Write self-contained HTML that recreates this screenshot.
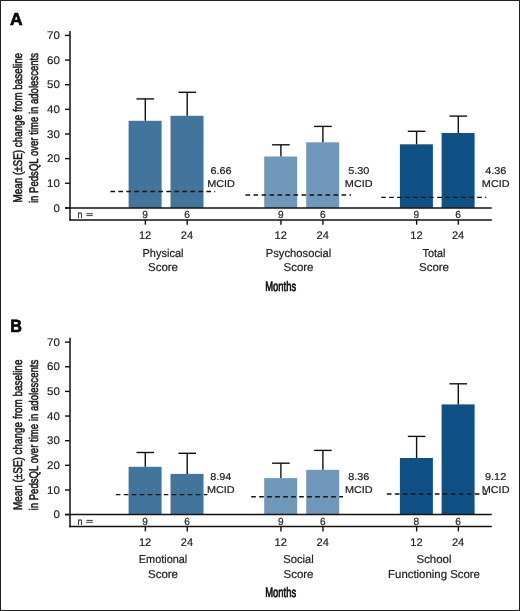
<!DOCTYPE html><html><head><meta charset="utf-8"><style>html,body{margin:0;padding:0;background:#fff;}svg{display:block;will-change:transform;}text{font-family:"Liberation Sans", sans-serif;fill:#222;text-rendering:geometricPrecision;}.t{stroke:#222;stroke-width:0.2px;}.yl{fill:#1a1a1a;stroke:#1a1a1a;stroke-width:0.55px;}.pl{fill:#0a0a0a;stroke:#0a0a0a;stroke-width:0.7px;}.t0{stroke:#222;stroke-width:0.15px;}.mo{fill:#0d0d0d;stroke:#0d0d0d;stroke-width:0.7px;}.l13{stroke:#111;stroke-width:1.4px;}.l14{stroke:#111;stroke-width:1.4px;}.l15{stroke:#111;stroke-width:1.5px;}</style></head><body>
<svg width="520" height="611" viewBox="0 0 520 611">
<rect x="0" y="0" width="520" height="611" fill="#fff"/>
<text x="9.9" y="24.7" font-size="17.4" font-weight="bold" class="pl">A</text>
<text transform="translate(22.2,202.50) rotate(-90)" font-size="12.5" class="yl" textLength="149.6" lengthAdjust="spacingAndGlyphs">Mean (±SE) change from baseline</text>
<text transform="translate(38.4,203.00) rotate(-90)" font-size="12.5" class="yl" textLength="150.0" lengthAdjust="spacingAndGlyphs">in PedsQL over time in adolescents</text>
<rect x="128.60" y="120.80" width="33" height="87.10" fill="#42759b"/>
<rect x="170.50" y="115.80" width="33" height="92.10" fill="#42759b"/>
<rect x="264.20" y="156.50" width="33" height="51.40" fill="#7098ba"/>
<rect x="306.20" y="142.30" width="33" height="65.60" fill="#7098ba"/>
<rect x="399.90" y="144.30" width="33" height="63.60" fill="#105185"/>
<rect x="441.60" y="133.00" width="33" height="74.90" fill="#105185"/>
<line x1="145.30" y1="120.80" x2="145.30" y2="98.90" class="l13"/>
<line x1="136.50" y1="98.90" x2="154.10" y2="98.90" class="l13"/>
<line x1="187.20" y1="115.80" x2="187.20" y2="92.30" class="l13"/>
<line x1="178.40" y1="92.30" x2="196.00" y2="92.30" class="l13"/>
<line x1="280.90" y1="156.50" x2="280.90" y2="144.80" class="l13"/>
<line x1="272.10" y1="144.80" x2="289.70" y2="144.80" class="l13"/>
<line x1="322.90" y1="142.30" x2="322.90" y2="126.40" class="l13"/>
<line x1="314.10" y1="126.40" x2="331.70" y2="126.40" class="l13"/>
<line x1="416.60" y1="144.30" x2="416.60" y2="131.30" class="l13"/>
<line x1="407.80" y1="131.30" x2="425.40" y2="131.30" class="l13"/>
<line x1="458.30" y1="133.00" x2="458.30" y2="116.10" class="l13"/>
<line x1="449.50" y1="116.10" x2="467.10" y2="116.10" class="l13"/>
<line x1="110.40" y1="191.50" x2="215.30" y2="191.50" class="l13" stroke-dasharray="4.6 3.4"/>
<text transform="translate(221.00,173.60) scale(1.100,1.000)" font-size="9.9" text-anchor="middle" class="t">6.66</text>
<text transform="translate(221.00,186.60) scale(1.100,1.000)" font-size="9.9" text-anchor="middle" class="t">MCID</text>
<line x1="245.50" y1="195.00" x2="351.00" y2="195.00" class="l13" stroke-dasharray="4.6 3.4"/>
<text transform="translate(358.70,173.60) scale(1.100,1.000)" font-size="9.9" text-anchor="middle" class="t">5.30</text>
<text transform="translate(358.70,186.60) scale(1.100,1.000)" font-size="9.9" text-anchor="middle" class="t">MCID</text>
<line x1="381.20" y1="197.40" x2="486.50" y2="197.40" class="l13" stroke-dasharray="4.6 3.4"/>
<text transform="translate(495.70,173.60) scale(1.100,1.000)" font-size="9.9" text-anchor="middle" class="t">4.36</text>
<text transform="translate(495.70,186.60) scale(1.100,1.000)" font-size="9.9" text-anchor="middle" class="t">MCID</text>
<line x1="70" y1="31.00" x2="70" y2="220.50" class="l15"/>
<line x1="65" y1="207.90" x2="491.8" y2="207.90" class="l15"/>
<line x1="69.3" y1="219.90" x2="491.8" y2="219.90" class="l15"/>
<line x1="65" y1="207.90" x2="70" y2="207.90" class="l14"/>
<text transform="translate(59.85,211.50) scale(1.050,1.000)" font-size="11.0" text-anchor="end" class="t0">0</text>
<line x1="65" y1="183.26" x2="70" y2="183.26" class="l14"/>
<text transform="translate(59.85,186.86) scale(1.050,1.000)" font-size="11.0" text-anchor="end" class="t0">10</text>
<line x1="65" y1="158.62" x2="70" y2="158.62" class="l14"/>
<text transform="translate(59.85,162.22) scale(1.050,1.000)" font-size="11.0" text-anchor="end" class="t0">20</text>
<line x1="65" y1="133.98" x2="70" y2="133.98" class="l14"/>
<text transform="translate(59.85,137.58) scale(1.050,1.000)" font-size="11.0" text-anchor="end" class="t0">30</text>
<line x1="65" y1="109.34" x2="70" y2="109.34" class="l14"/>
<text transform="translate(59.85,112.94) scale(1.050,1.000)" font-size="11.0" text-anchor="end" class="t0">40</text>
<line x1="65" y1="84.70" x2="70" y2="84.70" class="l14"/>
<text transform="translate(59.85,88.30) scale(1.050,1.000)" font-size="11.0" text-anchor="end" class="t0">50</text>
<line x1="65" y1="60.06" x2="70" y2="60.06" class="l14"/>
<text transform="translate(59.85,63.66) scale(1.050,1.000)" font-size="11.0" text-anchor="end" class="t0">60</text>
<line x1="65" y1="35.42" x2="70" y2="35.42" class="l14"/>
<text transform="translate(59.85,39.02) scale(1.050,1.000)" font-size="11.0" text-anchor="end" class="t0">70</text>
<text transform="translate(77.50,217.80) scale(0.880,1.000)" font-size="10.3" class="t">n</text>
<line x1="86.4" y1="213.70" x2="92.8" y2="213.70" stroke="#222" stroke-width="0.9"/>
<line x1="86.4" y1="215.60" x2="92.8" y2="215.60" stroke="#222" stroke-width="0.9"/>
<line x1="145.35" y1="219.90" x2="145.35" y2="224.70" class="l13"/>
<text transform="translate(145.10,217.80) scale(0.980,1.000)" font-size="10.3" text-anchor="middle" class="t">9</text>
<text transform="translate(145.10,239.20)" font-size="11.1" text-anchor="middle" class="t">12</text>
<line x1="187.25" y1="219.90" x2="187.25" y2="224.70" class="l13"/>
<text transform="translate(187.00,217.80) scale(0.980,1.000)" font-size="10.3" text-anchor="middle" class="t">6</text>
<text transform="translate(187.00,239.20)" font-size="11.1" text-anchor="middle" class="t">24</text>
<line x1="280.95" y1="219.90" x2="280.95" y2="224.70" class="l13"/>
<text transform="translate(280.70,217.80) scale(0.980,1.000)" font-size="10.3" text-anchor="middle" class="t">9</text>
<text transform="translate(280.70,239.20)" font-size="11.1" text-anchor="middle" class="t">12</text>
<line x1="322.95" y1="219.90" x2="322.95" y2="224.70" class="l13"/>
<text transform="translate(322.70,217.80) scale(0.980,1.000)" font-size="10.3" text-anchor="middle" class="t">6</text>
<text transform="translate(322.70,239.20)" font-size="11.1" text-anchor="middle" class="t">24</text>
<line x1="416.65" y1="219.90" x2="416.65" y2="224.70" class="l13"/>
<text transform="translate(416.40,217.80) scale(0.980,1.000)" font-size="10.3" text-anchor="middle" class="t">9</text>
<text transform="translate(416.40,239.20)" font-size="11.1" text-anchor="middle" class="t">12</text>
<line x1="458.35" y1="219.90" x2="458.35" y2="224.70" class="l13"/>
<text transform="translate(458.10,217.80) scale(0.980,1.000)" font-size="10.3" text-anchor="middle" class="t">6</text>
<text transform="translate(458.10,239.20)" font-size="11.1" text-anchor="middle" class="t">24</text>
<text transform="translate(163.00,256.80) scale(1.000,1.045)" font-size="11" text-anchor="middle" class="t">Physical</text>
<text transform="translate(163.00,270.90) scale(1.045,1.045)" font-size="11" text-anchor="middle" class="t">Score</text>
<text transform="translate(298.50,256.80) scale(1.020,1.045)" font-size="11" text-anchor="middle" class="t">Psychosocial</text>
<text transform="translate(298.50,270.90) scale(1.045,1.045)" font-size="11" text-anchor="middle" class="t">Score</text>
<text transform="translate(434.00,256.80) scale(0.990,1.045)" font-size="11" text-anchor="middle" class="t">Total</text>
<text transform="translate(434.00,270.90) scale(1.045,1.045)" font-size="11" text-anchor="middle" class="t">Score</text>
<text x="265.3" y="290.70" font-size="13.6" class="mo" textLength="30.8" lengthAdjust="spacingAndGlyphs">Months</text>
<text transform="translate(10.3,331.70) scale(0.93,1.02)" font-size="17.4" font-weight="bold" class="pl">B</text>
<text transform="translate(22.2,510.00) rotate(-90)" font-size="12.5" class="yl" textLength="150.4" lengthAdjust="spacingAndGlyphs">Mean (±SE) change from baseline</text>
<text transform="translate(38.4,510.50) rotate(-90)" font-size="12.5" class="yl" textLength="150.8" lengthAdjust="spacingAndGlyphs">in PedsQL over time in adolescents</text>
<rect x="128.60" y="466.80" width="33" height="47.80" fill="#42759b"/>
<rect x="170.50" y="473.90" width="33" height="40.70" fill="#42759b"/>
<rect x="264.20" y="478.10" width="33" height="36.50" fill="#7098ba"/>
<rect x="306.20" y="469.80" width="33" height="44.80" fill="#7098ba"/>
<rect x="399.90" y="458.00" width="33" height="56.60" fill="#105185"/>
<rect x="441.60" y="404.40" width="33" height="110.20" fill="#105185"/>
<line x1="145.30" y1="466.80" x2="145.30" y2="452.50" class="l13"/>
<line x1="136.50" y1="452.50" x2="154.10" y2="452.50" class="l13"/>
<line x1="187.20" y1="473.90" x2="187.20" y2="453.30" class="l13"/>
<line x1="178.40" y1="453.30" x2="196.00" y2="453.30" class="l13"/>
<line x1="280.90" y1="478.10" x2="280.90" y2="463.20" class="l13"/>
<line x1="272.10" y1="463.20" x2="289.70" y2="463.20" class="l13"/>
<line x1="322.90" y1="469.80" x2="322.90" y2="450.40" class="l13"/>
<line x1="314.10" y1="450.40" x2="331.70" y2="450.40" class="l13"/>
<line x1="416.60" y1="458.00" x2="416.60" y2="436.40" class="l13"/>
<line x1="407.80" y1="436.40" x2="425.40" y2="436.40" class="l13"/>
<line x1="458.30" y1="404.40" x2="458.30" y2="383.80" class="l13"/>
<line x1="449.50" y1="383.80" x2="467.10" y2="383.80" class="l13"/>
<line x1="115.80" y1="494.60" x2="207.50" y2="494.60" class="l13" stroke-dasharray="4.6 3.4"/>
<text transform="translate(220.80,479.70) scale(1.100,1.000)" font-size="9.9" text-anchor="middle" class="t">8.94</text>
<text transform="translate(220.80,492.70) scale(1.100,1.000)" font-size="9.9" text-anchor="middle" class="t">MCID</text>
<line x1="251.20" y1="496.70" x2="343.00" y2="496.70" class="l13" stroke-dasharray="4.6 3.4"/>
<text transform="translate(358.80,479.70) scale(1.100,1.000)" font-size="9.9" text-anchor="middle" class="t">8.36</text>
<text transform="translate(358.80,492.70) scale(1.100,1.000)" font-size="9.9" text-anchor="middle" class="t">MCID</text>
<line x1="386.90" y1="494.00" x2="487.00" y2="494.00" class="l13" stroke-dasharray="4.6 3.4"/>
<text transform="translate(495.60,479.70) scale(1.100,1.000)" font-size="9.9" text-anchor="middle" class="t">9.12</text>
<text transform="translate(495.60,492.70) scale(1.100,1.000)" font-size="9.9" text-anchor="middle" class="t">MCID</text>
<line x1="70" y1="337.70" x2="70" y2="527.20" class="l15"/>
<line x1="65" y1="514.60" x2="491.8" y2="514.60" class="l15"/>
<line x1="69.3" y1="526.60" x2="491.8" y2="526.60" class="l15"/>
<line x1="65" y1="514.60" x2="70" y2="514.60" class="l14"/>
<text transform="translate(59.85,518.20) scale(1.050,1.000)" font-size="11.0" text-anchor="end" class="t0">0</text>
<line x1="65" y1="489.96" x2="70" y2="489.96" class="l14"/>
<text transform="translate(59.85,493.56) scale(1.050,1.000)" font-size="11.0" text-anchor="end" class="t0">10</text>
<line x1="65" y1="465.32" x2="70" y2="465.32" class="l14"/>
<text transform="translate(59.85,468.92) scale(1.050,1.000)" font-size="11.0" text-anchor="end" class="t0">20</text>
<line x1="65" y1="440.68" x2="70" y2="440.68" class="l14"/>
<text transform="translate(59.85,444.28) scale(1.050,1.000)" font-size="11.0" text-anchor="end" class="t0">30</text>
<line x1="65" y1="416.04" x2="70" y2="416.04" class="l14"/>
<text transform="translate(59.85,419.64) scale(1.050,1.000)" font-size="11.0" text-anchor="end" class="t0">40</text>
<line x1="65" y1="391.40" x2="70" y2="391.40" class="l14"/>
<text transform="translate(59.85,395.00) scale(1.050,1.000)" font-size="11.0" text-anchor="end" class="t0">50</text>
<line x1="65" y1="366.76" x2="70" y2="366.76" class="l14"/>
<text transform="translate(59.85,370.36) scale(1.050,1.000)" font-size="11.0" text-anchor="end" class="t0">60</text>
<line x1="65" y1="342.12" x2="70" y2="342.12" class="l14"/>
<text transform="translate(59.85,345.72) scale(1.050,1.000)" font-size="11.0" text-anchor="end" class="t0">70</text>
<text transform="translate(77.50,524.50) scale(0.880,1.000)" font-size="10.3" class="t">n</text>
<line x1="86.4" y1="520.40" x2="92.8" y2="520.40" stroke="#222" stroke-width="0.9"/>
<line x1="86.4" y1="522.30" x2="92.8" y2="522.30" stroke="#222" stroke-width="0.9"/>
<line x1="145.35" y1="526.60" x2="145.35" y2="531.40" class="l13"/>
<text transform="translate(145.10,524.50) scale(0.980,1.000)" font-size="10.3" text-anchor="middle" class="t">9</text>
<text transform="translate(145.10,545.90)" font-size="11.1" text-anchor="middle" class="t">12</text>
<line x1="187.25" y1="526.60" x2="187.25" y2="531.40" class="l13"/>
<text transform="translate(187.00,524.50) scale(0.980,1.000)" font-size="10.3" text-anchor="middle" class="t">6</text>
<text transform="translate(187.00,545.90)" font-size="11.1" text-anchor="middle" class="t">24</text>
<line x1="280.95" y1="526.60" x2="280.95" y2="531.40" class="l13"/>
<text transform="translate(280.70,524.50) scale(0.980,1.000)" font-size="10.3" text-anchor="middle" class="t">9</text>
<text transform="translate(280.70,545.90)" font-size="11.1" text-anchor="middle" class="t">12</text>
<line x1="322.95" y1="526.60" x2="322.95" y2="531.40" class="l13"/>
<text transform="translate(322.70,524.50) scale(0.980,1.000)" font-size="10.3" text-anchor="middle" class="t">6</text>
<text transform="translate(322.70,545.90)" font-size="11.1" text-anchor="middle" class="t">24</text>
<line x1="416.65" y1="526.60" x2="416.65" y2="531.40" class="l13"/>
<text transform="translate(416.40,524.50) scale(0.980,1.000)" font-size="10.3" text-anchor="middle" class="t">8</text>
<text transform="translate(416.40,545.90)" font-size="11.1" text-anchor="middle" class="t">12</text>
<line x1="458.35" y1="526.60" x2="458.35" y2="531.40" class="l13"/>
<text transform="translate(458.10,524.50) scale(0.980,1.000)" font-size="10.3" text-anchor="middle" class="t">6</text>
<text transform="translate(458.10,545.90)" font-size="11.1" text-anchor="middle" class="t">24</text>
<text transform="translate(163.00,563.40) scale(0.990,1.045)" font-size="11" text-anchor="middle" class="t">Emotional</text>
<text transform="translate(163.00,577.50) scale(1.045,1.045)" font-size="11" text-anchor="middle" class="t">Score</text>
<text transform="translate(298.50,563.40) scale(1.020,1.045)" font-size="11" text-anchor="middle" class="t">Social</text>
<text transform="translate(298.50,577.50) scale(1.045,1.045)" font-size="11" text-anchor="middle" class="t">Score</text>
<text transform="translate(434.00,563.40) scale(1.040,1.045)" font-size="11" text-anchor="middle" class="t">School</text>
<text transform="translate(434.00,577.50) scale(1.035,1.045)" font-size="11" text-anchor="middle" class="t">Functioning Score</text>
<text x="265.3" y="597.40" font-size="13.6" class="mo" textLength="30.8" lengthAdjust="spacingAndGlyphs">Months</text>
<rect x="0.5" y="0.5" width="519" height="610" fill="none" stroke="#222" stroke-width="1"/>
</svg></body></html>
